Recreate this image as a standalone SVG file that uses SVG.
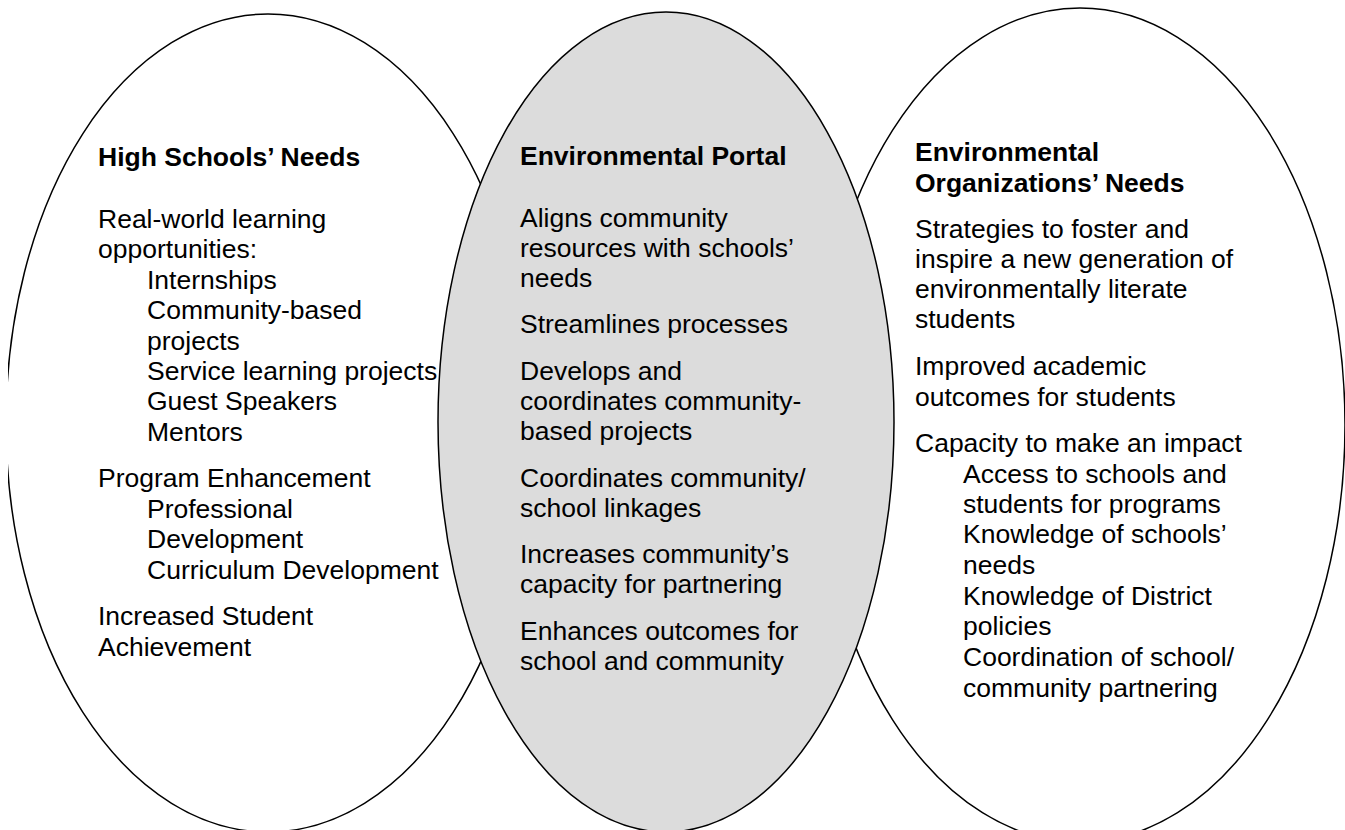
<svg xmlns="http://www.w3.org/2000/svg" width="1345" height="830" viewBox="0 0 1345 830">
<style>
.sh{stroke:#000;stroke-width:1.5}
text{font-family:"Liberation Sans",Arial,sans-serif;font-size:26.5px;fill:#000}
.b{font-weight:bold}
</style>
<defs>
<clipPath id="pg"><rect x="8" y="0" width="1337" height="830"/></clipPath>
</defs>
<rect width="1345" height="830" fill="#fff"/>
<g clip-path="url(#pg)">
<g id="left-node">
<ellipse class="sh" cx="268" cy="423" rx="262" ry="409" fill="#fff"/>
</g>
<g id="right-node">
<ellipse class="sh" cx="1080" cy="425" rx="265" ry="417" fill="#fff"/>
</g>
<g id="center-node">
<ellipse class="sh" cx="666" cy="422" rx="228" ry="410" fill="#dcdcdc"/>
</g>
</g>
<g id="connectors"></g>
<g id="left-text">
<text class="b" x="98" y="166">High Schools’ Needs</text>
<text x="98" y="228">Real-world learning</text>
<text x="98" y="258.4">opportunities:</text>
<text x="147" y="288.8">Internships</text>
<text x="147" y="319.2">Community-based</text>
<text x="147" y="349.6">projects</text>
<text x="147" y="380">Service learning projects</text>
<text x="147" y="410.4">Guest Speakers</text>
<text x="147" y="440.8">Mentors</text>
<text x="98" y="487">Program Enhancement</text>
<text x="147" y="517.5">Professional</text>
<text x="147" y="548">Development</text>
<text x="147" y="578.5">Curriculum Development</text>
<text x="98" y="625">Increased Student</text>
<text x="98" y="655.5">Achievement</text>
</g>
<g id="center-text">
<text class="b" x="520" y="165">Environmental Portal</text>
<text x="520" y="226.7">Aligns community</text>
<text x="520" y="256.7">resources with schools’</text>
<text x="520" y="286.7">needs</text>
<text x="520" y="333.3">Streamlines processes</text>
<text x="520" y="380">Develops and</text>
<text x="520" y="410">coordinates community-</text>
<text x="520" y="440">based projects</text>
<text x="520" y="486.7">Coordinates community/</text>
<text x="520" y="516.7">school linkages</text>
<text x="520" y="563.3">Increases community’s</text>
<text x="520" y="593.3">capacity for partnering</text>
<text x="520" y="640">Enhances outcomes for</text>
<text x="520" y="670">school and community</text>
</g>
<g id="right-text">
<text class="b" x="915" y="160.7">Environmental</text>
<text class="b" x="915" y="191.7">Organizations’ Needs</text>
<text x="915" y="238.3">Strategies to foster and</text>
<text x="915" y="268.3">inspire a new generation of</text>
<text x="915" y="298.3">environmentally literate</text>
<text x="915" y="328.3">students</text>
<text x="915" y="375">Improved academic</text>
<text x="915" y="406">outcomes for students</text>
<text x="915" y="452.3">Capacity to make an impact</text>
<text x="963" y="483.3">Access to schools and</text>
<text x="963" y="513.3">students for programs</text>
<text x="963" y="543.3">Knowledge of schools’</text>
<text x="963" y="574">needs</text>
<text x="963" y="605">Knowledge of District</text>
<text x="963" y="635">policies</text>
<text x="963" y="665.7">Coordination of school/</text>
<text x="963" y="696.7">community partnering</text>
</g>
</svg>
